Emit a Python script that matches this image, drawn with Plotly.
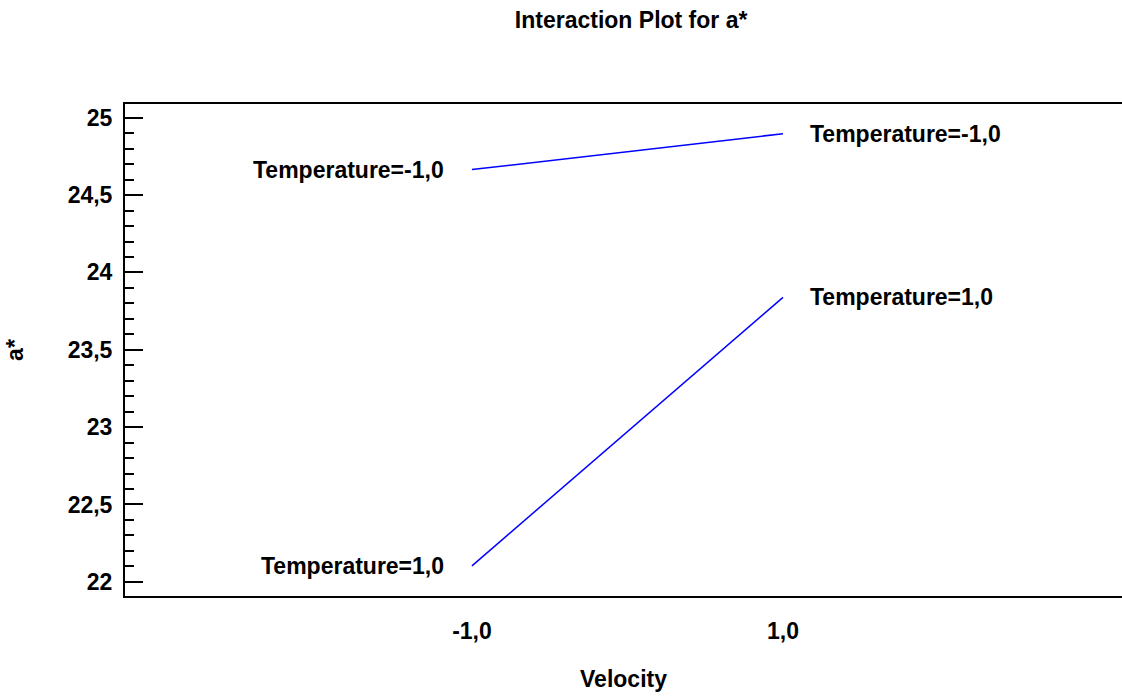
import plotly.graph_objects as go

# Data
velocity = [-1.0, 1.0]
temp_low_values = [24.665, 24.897]   # Temperature=-1,0
temp_high_values = [22.103, 23.839]  # Temperature=1,0
series_names = ["Temperature=-1,0", "Temperature=1,0"]
x_tick_vals = [-1.0, 1.0]
x_tick_text = ["-1,0", "1,0"]
y_tick_vals = [22, 22.5, 23, 23.5, 24, 24.5, 25]
y_tick_text = ["22", "22,5", "23", "23,5", "24", "24,5", "25"]

FONT = "Liberation Sans, Arial, sans-serif"
BLUE = "#0000FF"

fig = go.Figure()
for vals in (temp_low_values, temp_high_values):
    fig.add_trace(go.Scatter(x=velocity, y=vals, mode="lines",
                             line=dict(color=BLUE, width=1.5),
                             showlegend=False, hoverinfo="skip"))

annotations = []
for name, vals in zip(series_names, (temp_low_values, temp_high_values)):
    annotations.append(dict(x=velocity[0], y=vals[0], xref="x", yref="y",
                            text=f"<b>{name}</b>", showarrow=False,
                            xanchor="right", yanchor="middle", xshift=-26,
                            font=dict(family=FONT, size=23, color="black")))
    annotations.append(dict(x=velocity[1], y=vals[1], xref="x", yref="y",
                            text=f"<b>{name}</b>", showarrow=False,
                            xanchor="left", yanchor="middle", xshift=25,
                            font=dict(family=FONT, size=23, color="black")))

yrange = [21.908, 25.089]

fig.update_layout(
    width=1122, height=698,
    margin=dict(l=125, r=0, t=104, b=102),
    paper_bgcolor="white", plot_bgcolor="white",
    separators=", ",
    font=dict(family=FONT, size=23, color="black"),
    title=dict(text="<b>Interaction Plot for a*</b>", x=0.5625, xanchor="center",
               y=0.971, yanchor="middle",
               font=dict(family=FONT, size=23, color="black")),
    annotations=annotations,
    xaxis=dict(range=[-3.231, 3.180], showgrid=False, zeroline=False,
               showline=True, mirror=True, linecolor="black", linewidth=2,
               ticks="", tickvals=x_tick_vals, ticktext=[f"<b>{t}</b>" for t in x_tick_text],
               ticklabelstandoff=13,
               tickfont=dict(family=FONT, size=23, color="black"),
               title=dict(text="<b>Velocity</b>", standoff=28,
                          font=dict(family=FONT, size=23, color="black"))),
    yaxis=dict(range=yrange, showgrid=False, zeroline=False,
               showline=True, linecolor="black", linewidth=2,
               ticks="inside", ticklen=18, tickwidth=1.5, tickcolor="black",
               tickvals=y_tick_vals, ticktext=[f"<b>{t}</b>" for t in y_tick_text],
               ticklabelstandoff=6,
               tickfont=dict(family=FONT, size=23, color="black"),
               minor=dict(dtick=0.1, ticks="inside", ticklen=9, tickwidth=1.5,
                          tickcolor="black", showgrid=False),
               title=dict(text="<b>a*</b>", standoff=38,
                          font=dict(family=FONT, size=23, color="black"))),
    yaxis2=dict(range=yrange, overlaying="y", side="right", showgrid=False,
                zeroline=False, showline=False, showticklabels=False,
                ticks="inside", ticklen=10, tickwidth=1.5, tickcolor="black",
                tickvals=y_tick_vals,
                minor=dict(dtick=0.1, ticks="inside", ticklen=1, tickwidth=1.5,
                           tickcolor="black", showgrid=False)),
)

fig.write_html("out.html")
